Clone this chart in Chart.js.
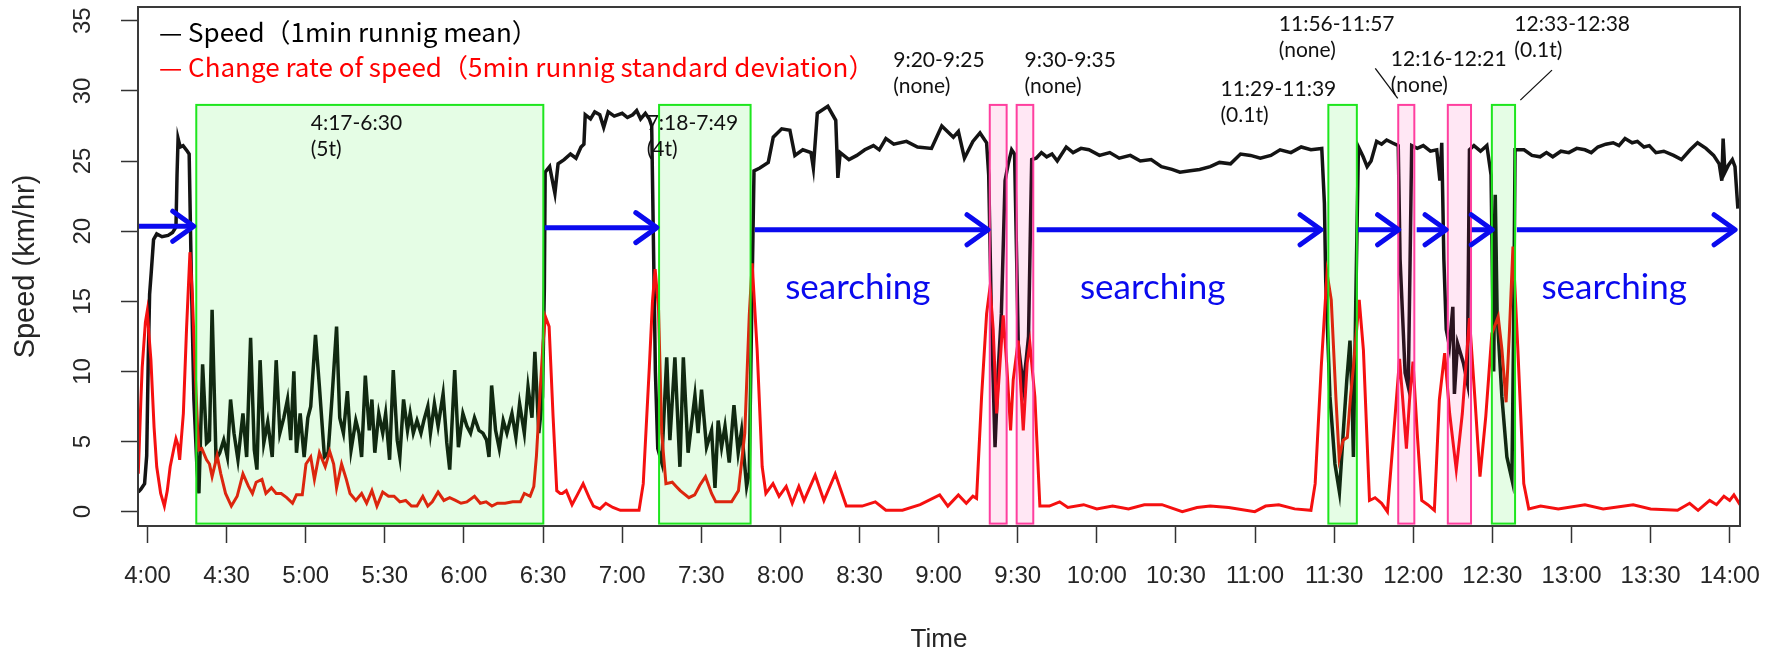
<!DOCTYPE html>
<html>
<head>
<meta charset="utf-8">
<title>Speed / change rate</title>
<script src="https://cdn.jsdelivr.net/npm/chart.js@4.4.1/dist/chart.umd.min.js"></script>
<style>
  html, body { margin: 0; padding: 0; background: #fff; }
  canvas { display: block; }
</style>
</head>
<body>
<canvas id="chart-speed" width="1781" height="653"></canvas>
<script>
// Temps en minutes depuis minuit (240 = 4:00), vitesses en km/h

// Vitesse, moyenne glissante 1 min
const speedSeries = [
  [236.5, 1.4], [237.5, 1.6], [238.9, 2.0], [239.7, 4.0], [240.3, 11.0], [240.8, 15.5], [241.4, 17.0],
  [242.3, 19.4], [243.5, 19.8], [245.5, 19.6], [247.8, 19.7], [249.5, 19.9], [250.8, 20.3], [251.2, 24.0],
  [251.6, 26.6], [252.4, 26.0], [253.5, 26.1], [255.1, 25.7], [255.8, 25.5], [256.6, 17.0], [257.6, 8.0],
  [258.8, 3.0], [259.5, 1.3], [260.9, 10.5], [262.4, 4.9], [263.5, 5.1], [264.5, 14.4], [266.0, 3.7],
  [267.4, 4.2], [268.9, 5.1], [270.3, 3.9], [271.5, 8.0], [272.8, 5.6], [274.3, 3.7], [276.2, 7.0],
  [277.6, 3.9], [279.1, 12.4], [280.5, 4.4], [281.5, 3.0], [282.7, 10.8], [284.1, 4.9], [285.6, 6.4],
  [287.3, 3.9], [288.8, 10.8], [290.2, 5.6], [291.7, 6.7], [293.1, 8.0], [294.3, 5.1], [295.5, 10.0],
  [296.5, 4.2], [297.9, 7.0], [299.4, 3.9], [300.8, 6.7], [301.9, 7.5], [303.7, 12.6], [305.2, 8.9],
  [307.1, 3.9], [308.5, 4.2], [310.0, 8.2], [311.7, 13.2], [312.9, 6.7], [314.3, 5.6], [315.8, 8.6],
  [317.2, 4.4], [319.0, 6.5], [320.2, 5.6], [321.2, 3.9], [322.6, 9.7], [324.1, 5.8], [325.1, 8.0],
  [326.2, 4.2], [327.7, 7.0], [329.2, 5.6], [330.3, 7.0], [331.8, 3.7], [333.2, 10.1], [334.7, 5.1],
  [335.7, 3.9], [337.1, 8.0], [338.6, 5.8], [339.6, 7.0], [340.8, 5.6], [342.2, 6.5], [343.7, 5.6],
  [344.8, 6.5], [346.3, 7.5], [347.3, 5.6], [348.8, 7.7], [350.2, 6.1], [352.1, 8.4], [353.5, 4.9],
  [354.6, 3.0], [356.5, 10.1], [357.9, 4.6], [359.6, 7.0], [361.1, 6.1], [362.5, 5.6], [364.0, 6.7],
  [365.7, 5.8], [367.2, 5.6], [368.6, 5.1], [369.5, 3.9], [370.5, 9.0], [372.0, 5.8], [373.4, 4.5],
  [374.9, 6.5], [376.3, 5.6], [378.2, 7.0], [379.7, 5.3], [381.1, 7.7], [382.9, 5.6], [384.3, 8.9],
  [385.8, 6.7], [386.9, 11.4], [388.4, 5.6], [389.8, 8.2], [390.5, 16.0], [390.8, 24.2], [392.5, 24.6],
  [394.5, 22.7], [395.7, 24.8], [398.0, 25.1], [400.4, 25.5], [402.5, 25.2], [404.4, 26.0], [405.5, 26.2],
  [406.0, 28.3], [408.0, 28.0], [409.6, 28.5], [411.5, 28.3], [413.0, 27.4], [414.7, 28.5], [417.0, 28.2],
  [420.0, 28.4], [422.0, 28.1], [424.0, 28.3], [425.5, 28.6], [427.0, 28.0], [428.8, 28.4], [430.3, 28.0],
  [431.2, 27.5], [431.8, 20.0], [432.6, 10.0], [433.5, 4.5],
  [435.0, 3.5], [436.9, 11.0], [438.1, 5.1], [440.0, 11.0], [441.9, 3.2], [443.2, 11.0], [445.0, 4.2],
  [447.6, 8.3], [448.8, 5.6], [450.1, 8.7], [452.0, 4.6], [453.9, 5.8], [455.2, 1.7], [456.4, 6.5],
  [457.7, 4.6], [459.0, 6.1], [460.6, 3.5], [462.4, 7.6], [464.0, 4.2], [465.3, 5.8], [467.2, 1.8],
  [468.2, 2.8], [469.1, 14.0], [470.0, 24.3], [472.2, 24.5], [475.4, 24.9], [477.3, 26.7], [480.5, 27.3],
  [483.6, 27.2], [485.5, 25.4], [488.5, 25.8], [491.6, 25.6], [492.5, 24.5], [494.0, 28.4], [498.0, 28.9],
  [501.0, 27.9], [501.8, 23.8], [502.7, 25.6], [506.0, 25.1], [509.0, 25.4], [512.0, 25.8], [515.3, 26.1],
  [517.5, 25.8], [520.0, 26.6], [523.0, 26.2], [527.8, 26.4], [532.0, 26.0], [537.3, 25.9],
  [541.2, 27.5], [545.6, 26.7], [547.5, 27.1], [549.8, 25.2], [553.0, 26.4], [555.7, 27.0], [558.2, 26.3],
  [559.0, 24.0], [560.0, 14.1], [561.4, 4.6], [562.6, 10.1], [563.8, 14.1], [565.2, 23.6], [566.4, 24.8],
  [567.7, 25.8], [568.8, 25.5], [569.6, 18.0], [570.2, 12.0], [572.1, 8.9], [573.3, 11.0], [574.1, 12.5],
  [574.8, 20.0], [575.3, 25.1], [577.0, 25.2], [579.0, 25.6], [581.0, 25.3], [583.0, 25.5], [585.0, 25.0],
  [588.4, 26.0], [591.0, 25.6], [594.0, 25.9], [597.0, 25.8], [601.0, 25.4], [604.9, 25.6], [608.5, 25.2],
  [612.7, 25.4], [616.5, 25.0], [620.6, 25.1], [624.5, 24.6], [628.5, 24.4], [631.5, 24.2], [635.4, 24.3],
  [639.0, 24.4], [643.0, 24.6], [646.5, 24.9], [650.7, 24.8], [654.5, 25.5], [658.3, 25.4], [662.0, 25.2],
  [666.0, 25.4], [669.5, 25.8], [673.6, 25.6], [677.5, 26.0], [681.2, 25.8], [685.3, 25.9], [686.3, 22.0],
  [686.8, 16.5], [688.4, 8.2], [690.3, 3.4], [692.0, 1.4], [693.5, 5.8], [694.8, 9.4], [696.0, 12.2],
  [696.8, 8.0], [697.3, 3.9], [698.2, 15.0], [699.2, 26.0], [701.0, 25.3], [702.5, 24.6], [704.0, 25.0],
  [706.1, 26.4], [708.0, 26.2], [709.9, 26.5], [712.0, 26.3], [714.3, 26.1], [715.0, 18.0], [716.9, 9.9],
  [718.1, 8.9], [718.8, 18.0], [719.4, 26.1], [721.5, 25.9], [723.8, 26.1], [726.5, 25.7], [728.9, 25.8],
  [730.1, 23.6], [730.8, 26.3], [731.6, 18.0], [732.5, 13.0], [733.7, 11.8], [735.0, 14.6], [735.6, 8.4],
  [736.8, 12.0], [739.0, 10.6], [740.5, 9.2], [741.3, 25.8], [743.0, 26.1], [745.5, 25.7], [747.9, 26.1],
  [749.5, 24.0], [750.5, 10.0], [751.1, 22.6], [751.8, 14.1], [753.6, 8.2], [755.5, 3.9], [757.4, 2.3],
  [758.0, 12.0], [758.6, 25.8], [762.0, 25.8], [765.0, 25.4], [768.1, 25.3], [770.5, 25.6], [772.9, 25.3],
  [776.0, 25.7], [779.0, 25.6], [782.0, 25.9], [785.1, 25.8], [787.5, 25.6], [790.0, 26.0], [793.0, 26.2],
  [795.8, 26.3], [798.0, 26.1], [800.3, 26.6], [803.0, 26.3], [805.0, 26.4], [807.5, 26.0], [809.5, 26.1],
  [812.0, 25.6], [815.0, 25.7], [818.7, 25.4], [821.7, 25.1], [825.0, 25.8], [827.8, 26.3], [831.0, 25.9],
  [833.9, 25.4], [836.0, 24.8], [837.0, 23.6], [837.5, 26.6], [838.2, 24.2], [839.5, 24.7], [841.0, 25.1],
  [842.0, 24.6], [843.1, 21.6]
];

// Taux de variation : écart-type glissant 5 min
const sdSeries = [
  [236.5, 2.7], [237.5, 8.0], [238.0, 10.3], [239.2, 13.5], [239.9, 14.3], [240.6, 12.5], [241.3, 10.8],
  [242.5, 6.0], [243.5, 3.2], [245.0, 1.3], [246.4, 0.4], [247.5, 1.5], [248.6, 3.2], [250.0, 4.5],
  [250.8, 5.2], [251.5, 4.8], [252.2, 3.7], [253.6, 7.0], [254.8, 13.0], [256.1, 18.5], [257.0, 15.5],
  [258.0, 10.3], [259.0, 6.0], [259.5, 4.4], [260.6, 4.5], [262.4, 3.7], [263.5, 3.4], [264.5, 2.5],
  [266.4, 4.0], [267.8, 2.7], [269.6, 1.3], [271.8, 0.4], [274.0, 1.1], [276.2, 2.7], [278.3, 1.8],
  [279.8, 1.3], [281.2, 2.1], [283.4, 2.3], [284.9, 1.3], [287.0, 1.7], [288.8, 1.3], [290.7, 1.3],
  [292.8, 1.0], [295.0, 0.6], [296.5, 1.2], [298.7, 1.2], [300.1, 3.4], [301.9, 3.9], [303.3, 2.3],
  [305.2, 4.2], [307.4, 3.2], [309.1, 4.3], [310.6, 3.4], [311.7, 1.7], [313.6, 3.4], [315.4, 2.3],
  [316.8, 1.3], [319.0, 0.8], [321.2, 1.3], [323.1, 0.6], [325.1, 1.5], [327.0, 0.4], [329.2, 1.4],
  [331.4, 1.1], [333.5, 1.1], [335.7, 0.7], [337.9, 0.8], [340.1, 0.4], [342.2, 0.4], [344.4, 1.1],
  [346.3, 0.4], [348.0, 0.7], [350.2, 1.4], [352.4, 0.8], [354.6, 1.0], [356.8, 0.8], [358.9, 0.6],
  [361.1, 0.7], [364.0, 1.1], [366.2, 0.6], [368.4, 0.7], [370.6, 0.4], [372.7, 0.6], [375.6, 0.6],
  [378.5, 0.7], [381.4, 0.7], [382.9, 1.3], [385.1, 1.1], [386.5, 1.8], [387.5, 4.0], [388.7, 8.0],
  [390.0, 12.0], [390.9, 13.9], [392.3, 13.2], [393.8, 6.8], [395.2, 1.5], [396.5, 1.3], [397.3, 1.3],
  [398.8, 1.5], [401.0, 0.5], [403.0, 1.2], [405.2, 2.0], [407.5, 1.0], [409.1, 0.4], [411.6, 0.2],
  [413.8, 0.6], [416.5, 0.3], [419.3, 0.1], [426.4, 0.1], [428.0, 2.0], [430.3, 10.3], [431.5, 15.0],
  [432.5, 17.3], [433.8, 14.4], [435.0, 5.6], [436.6, 2.0], [439.0, 2.1], [440.5, 1.8], [442.0, 1.5],
  [445.3, 1.0], [447.5, 1.2], [449.5, 1.9], [451.6, 2.5], [453.9, 1.3], [455.5, 0.7], [458.6, 0.7],
  [461.5, 0.7], [464.1, 1.5], [466.5, 5.6], [468.2, 14.0], [469.3, 17.7], [471.2, 11.5], [473.1, 3.2],
  [474.5, 1.3], [477.2, 2.0], [479.5, 1.1], [482.2, 1.8], [484.5, 0.6], [487.0, 1.8], [489.0, 0.8],
  [493.2, 2.6], [496.5, 0.8], [500.8, 2.7], [505.0, 0.4], [511.0, 0.4], [516.0, 0.7], [520.0, 0.1],
  [526.3, 0.1], [533.0, 0.5], [540.4, 1.2], [543.5, 0.4], [547.5, 1.2], [550.5, 0.6], [553.0, 1.1],
  [554.4, 0.95], [556.3, 8.2], [558.2, 14.1], [559.5, 16.0], [560.7, 13.0], [562.0, 7.0], [563.3, 10.6],
  [564.5, 14.0], [565.8, 10.6], [567.3, 5.8], [568.3, 9.4], [570.2, 12.2], [572.1, 5.8], [573.6, 10.6],
  [574.6, 12.0], [576.5, 8.2], [578.4, 0.4], [582.0, 0.4], [585.9, 0.7], [589.0, 0.3], [595.0, 0.5],
  [600.0, 0.2], [606.0, 0.4], [612.0, 0.2], [618.0, 0.5], [624.7, 0.5], [632.4, 0.0], [638.0, 0.3],
  [643.0, 0.4], [650.0, 0.3], [659.9, 0.0], [664.0, 0.4], [669.0, 0.5], [675.0, 0.2], [681.2, 0.1],
  [682.8, 2.0], [685.1, 10.3], [687.3, 17.0], [688.9, 15.1], [690.7, 8.0], [691.9, 3.8], [693.4, 5.1],
  [695.0, 5.3], [696.2, 8.2], [697.3, 10.3], [699.5, 15.1], [701.1, 11.5], [703.4, 0.8], [705.5, 1.0],
  [708.0, 0.6], [710.2, 0.0], [712.6, 5.6], [714.8, 10.9], [716.0, 8.0], [717.4, 4.5], [718.6, 8.0],
  [719.9, 10.7], [721.5, 5.6], [723.2, 0.8], [725.5, 0.5], [728.0, 0.1], [729.9, 8.0], [731.9, 11.3],
  [733.8, 7.0], [736.3, 3.0], [738.6, 7.0], [741.3, 13.8], [743.4, 8.0], [745.3, 2.5], [747.5, 6.8],
  [749.8, 12.7], [752.2, 13.9], [753.6, 11.6], [755.2, 7.8], [756.5, 13.0], [757.8, 18.9], [759.6, 11.8],
  [761.9, 2.0], [763.8, 0.2], [768.3, 0.4], [775.0, 0.2], [785.1, 0.5], [792.0, 0.2], [803.4, 0.5],
  [810.0, 0.2], [820.2, 0.1], [824.8, 0.6], [828.0, 0.1], [832.4, 0.8], [835.0, 0.5], [837.8, 1.1],
  [840.0, 0.8], [841.6, 1.2], [843.9, 0.5]
];

// Graduations des axes
const xTicks = [240, 270, 300, 330, 360, 390, 420, 450, 480, 510, 540, 570, 600, 630, 660, 690, 720, 750, 780, 810, 840];
const yTicks = [0, 5, 10, 15, 20, 25, 30, 35];

// Périodes encadrées (début / fin en minutes) : g = vert, p = rose
const boxStart = [258.5, 434.0, 559.4, 569.6, 687.8, 714.3, 733.1, 749.8];
const boxEnd   = [390.1, 468.7, 565.8, 575.9, 698.6, 720.4, 741.9, 758.6];
const boxKind  = ['g', 'g', 'p', 'p', 'g', 'p', 'p', 'g'];
const boxLabels = [
  ['4:17-6:30', '(5t)'], ['7:18-7:49', '(4t)'], ['9:20-9:25', '(none)'], ['9:30-9:35', '(none)'],
  ['11:29-11:39', '(0.1t)'], ['11:56-11:57', '(none)'], ['12:16-12:21', '(none)'], ['12:33-12:38', '(0.1t)']
];

// Flèches de recherche
const arrowFrom  = [236.4, 390.7, 470.3, 577.2, 699.1, 721.3, 742.2, 759.3];
const arrowTo    = [258.3, 433.9, 559.5, 685.8, 715.2, 733.2, 750.7, 842.8];
const arrowLevel = [20.35, 20.25, 20.1, 20.1, 20.1, 20.1, 20.1, 20.1];

// Libellés "searching"
const searchAt = [481.8, 593.6, 768.6];

// Mise en page des textes (temps, vitesse de la première ligne)
const labelAnchor = [
  [301.9, 27.2], [429.3, 27.2], [522.8, 31.7], [572.6, 31.7],
  [646.9, 29.6], [669.0, 34.3], [711.5, 31.8], [758.3, 34.3]
];
const leaderLines = [
  [[705.6, 31.6], [714.1, 29.47]],
  [[772.6, 31.48], [760.6, 29.34]]
];
const BOX_LOW = -0.85;
const BOX_HIGH = 29.0;
const SEARCH_LEVEL = 15.16;

const tickFont = { family: "'Liberation Sans Narrow', 'Liberation Sans', Arial, sans-serif", size: 24 };
const axisColor = '#262626';

function formatTime(v) {
  const h = Math.floor(v / 60);
  const m = Math.round(v % 60);
  return h + ':' + (m < 10 ? '0' + m : m);
}

// Cadres, flèches et annotations dessinés par-dessus les courbes
const overlayPlugin = {
  id: 'overlay',
  afterDatasetsDraw(chart) {
    const { ctx, scales: { x, y } } = chart;
    ctx.save();

    // cadres des périodes
    const top = y.getPixelForValue(BOX_HIGH);
    const bottom = y.getPixelForValue(BOX_LOW);
    boxStart.forEach((t0, i) => {
      const left = x.getPixelForValue(t0);
      const right = x.getPixelForValue(boxEnd[i]);
      const green = boxKind[i] === 'g';
      ctx.fillStyle = green ? 'rgba(0, 235, 0, 0.1)' : 'rgba(255, 20, 147, 0.1)';
      ctx.strokeStyle = green ? '#1ee61e' : '#ff3f9f';
      ctx.lineWidth = 2;
      ctx.fillRect(left, top, right - left, bottom - top);
      ctx.strokeRect(left, top, right - left, bottom - top);
    });

    // flèches bleues
    ctx.strokeStyle = '#0a0aee';
    ctx.lineWidth = 5;
    arrowFrom.forEach((t0, i) => {
      const x0 = x.getPixelForValue(t0);
      const x1 = x.getPixelForValue(arrowTo[i]) - 2;
      const py = y.getPixelForValue(arrowLevel[i]);
      ctx.lineCap = 'butt';
      ctx.beginPath();
      ctx.moveTo(x0, py);
      ctx.lineTo(x1, py);
      ctx.stroke();
      ctx.lineCap = 'round';
      ctx.lineJoin = 'round';
      ctx.beginPath();
      ctx.moveTo(x1 - 21, py - 15);
      ctx.lineTo(x1, py);
      ctx.lineTo(x1 - 21, py + 15);
      ctx.stroke();
    });
    ctx.restore();
  },
  afterDraw(chart) {
    const { ctx, chartArea, scales: { x, y } } = chart;
    ctx.save();

    // cadre du graphique
    ctx.strokeStyle = '#3a3a3a';
    ctx.lineWidth = 2;
    ctx.strokeRect(chartArea.left, chartArea.top, chartArea.right - chartArea.left, chartArea.bottom - chartArea.top);

    // légende
    ctx.font = "26px 'Noto Sans CJK JP', 'Noto Sans', sans-serif";
    ctx.textBaseline = 'alphabetic';
    ctx.textAlign = 'left';
    ctx.fillStyle = '#000';
    ctx.fillText('— Speed（1min runnig mean）', chartArea.left + 21, chartArea.top + 35);
    ctx.fillStyle = '#ff0000';
    ctx.fillText('— Change rate of speed（5min runnig standard deviation）', chartArea.left + 21, chartArea.top + 70);

    // annotations des périodes
    ctx.fillStyle = '#111';
    ctx.font = "21px Lato, 'Open Sans', sans-serif";
    boxLabels.forEach((lines, i) => {
      const px = x.getPixelForValue(labelAnchor[i][0]);
      const py = y.getPixelForValue(labelAnchor[i][1]);
      lines.forEach((txt, k) => ctx.fillText(txt, px, py + k * 26));
    });
    ctx.strokeStyle = '#111';
    ctx.lineWidth = 1.3;
    leaderLines.forEach(([a, b]) => {
      ctx.beginPath();
      ctx.moveTo(x.getPixelForValue(a[0]), y.getPixelForValue(a[1]));
      ctx.lineTo(x.getPixelForValue(b[0]), y.getPixelForValue(b[1]));
      ctx.stroke();
    });

    // "searching"
    ctx.fillStyle = '#0a0aee';
    ctx.font = "35px Lato, 'Open Sans', sans-serif";
    searchAt.forEach(t => ctx.fillText('searching', x.getPixelForValue(t), y.getPixelForValue(SEARCH_LEVEL)));
    ctx.restore();
  }
};

const ctxSpeed = document.getElementById('chart-speed');
new Chart(ctxSpeed, {
  type: 'line',
  data: {
    datasets: [{
      label: 'Change rate of speed',
      data: sdSeries.map(p => ({ x: p[0], y: p[1] })),
      borderColor: '#f51010',
      borderWidth: 3,
      pointRadius: 0,
      tension: 0,
      fill: false
    }, {
      label: 'Speed',
      data: speedSeries.map(p => ({ x: p[0], y: p[1] })),
      borderColor: '#141414',
      borderWidth: 3.5,
      pointRadius: 0,
      tension: 0,
      fill: false
    }]
  },
  options: {
    responsive: false,
    animation: false,
    layout: { padding: { top: 7, right: 41, left: 0, bottom: 0 } },
    plugins: {
      legend: { display: false },
      tooltip: { enabled: false }
    },
    scales: {
      x: {
        type: 'linear',
        min: 236.4,
        max: 843.9,
        afterBuildTicks: axis => { axis.ticks = xTicks.map(v => ({ value: v })); },
        afterFit: axis => {
          axis.height = 127;
          axis.paddingLeft = 0;
          axis.paddingRight = 0;
        },
        ticks: {
          callback: v => formatTime(v),
          font: tickFont,
          color: axisColor,
          padding: 19,
          maxRotation: 0,
          autoSkip: false
        },
        grid: { display: true, drawOnChartArea: false, drawTicks: true, tickLength: 17, tickWidth: 1.5, tickColor: '#333' },
        border: { display: false },
        title: {
          display: true,
          text: 'Time',
          color: axisColor,
          font: { family: "'Liberation Sans', Arial, sans-serif", size: 26, lineHeight: 1 },
          padding: { top: 0, bottom: 0 }
        }
      },
      y: {
        type: 'linear',
        min: -1.02,
        max: 35.98,
        afterBuildTicks: axis => { axis.ticks = yTicks.map(v => ({ value: v })); },
        afterFit: axis => {
          axis.width = 138;
          axis.paddingTop = 0;
          axis.paddingBottom = 0;
        },
        ticks: {
          callback: v => String(v),
          font: tickFont,
          color: axisColor,
          padding: 24,
          minRotation: 90,
          maxRotation: 90,
          crossAlign: 'center'
        },
        grid: { display: true, drawOnChartArea: false, drawTicks: true, tickLength: 17, tickWidth: 1.5, tickColor: '#333' },
        border: { display: false },
        title: {
          display: true,
          text: 'Speed (km/hr)',
          color: axisColor,
          font: { family: "'Liberation Sans', Arial, sans-serif", size: 29 },
          padding: { top: 9, bottom: 0 }
        }
      }
    }
  },
  plugins: [overlayPlugin]
});
</script>
</body>
</html>
